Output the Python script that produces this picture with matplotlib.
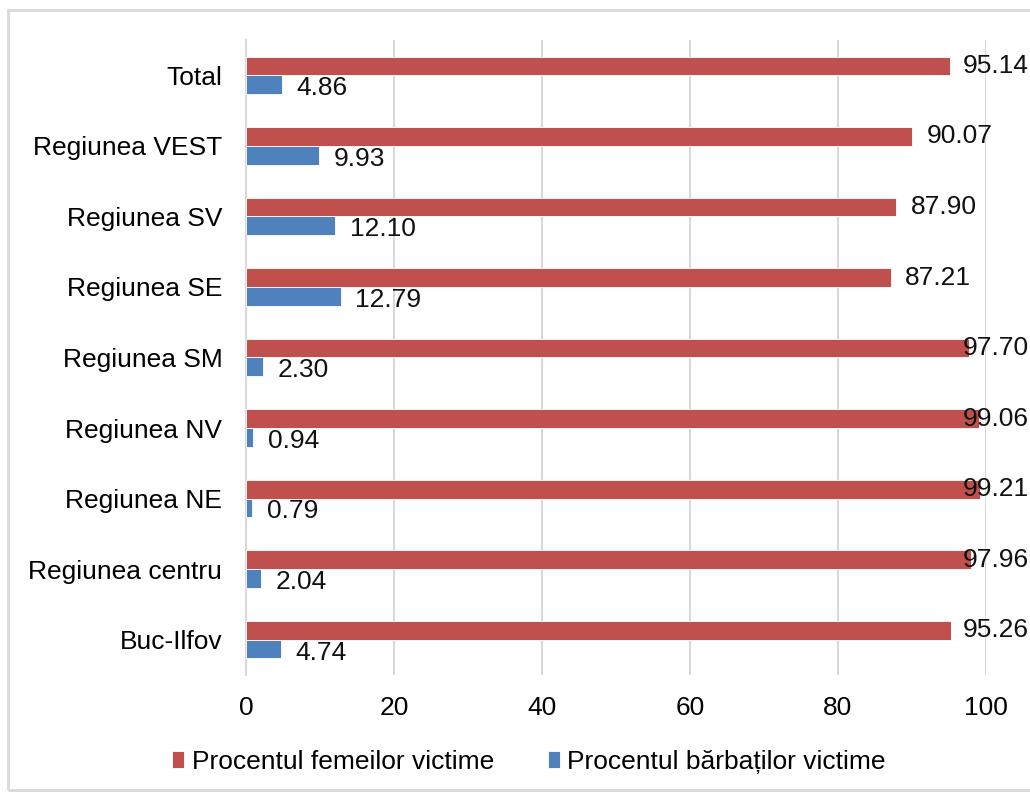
import numpy as np
import matplotlib.pyplot as plt
from matplotlib.patches import Rectangle

plt.rcParams['font.family'] = ['Liberation Sans', 'DejaVu Sans']

regiuni = ['Total', 'Regiunea VEST', 'Regiunea SV', 'Regiunea SE', 'Regiunea SM',
           'Regiunea NV', 'Regiunea NE', 'Regiunea centru', 'Buc-Ilfov']
femei = [95.14, 90.07, 87.90, 87.21, 97.70, 99.06, 99.21, 97.96, 95.26]
barbati = [4.86, 9.93, 12.10, 12.79, 2.30, 0.94, 0.79, 2.04, 4.74]
xticks = [0, 20, 40, 60, 80, 100]

rosu = '#C0504D'
albastru = '#4F81BD'
gri = '#D9D9D9'

fig = plt.figure(figsize=(10.3, 7.95), dpi=100)
ax = fig.add_axes([0.2388, 0.151, 0.7184, 0.7987])

y = np.arange(len(regiuni))
h = 0.265
ax.barh(y - h / 2, femei, height=h, color=rosu, edgecolor='white', linewidth=0.6,
        label='Procentul femeilor victime', zorder=3)
ax.barh(y + h / 2, barbati, height=h, color=albastru, edgecolor='white', linewidth=0.6,
        label='Procentul bărbaților victime', zorder=3)

# etichete: in afara capatului, dar impinse spre stanga daca nu incap
for i in range(len(regiuni)):
    ax.text(min(femei[i] + 1.9, 96.9), y[i] - h / 2, f'{femei[i]:.2f}',
            va='center', ha='left', fontsize=19, color='#111111', clip_on=False, zorder=4)
    ax.text(barbati[i] + 2.0, y[i] + h / 2 + 0.05, f'{barbati[i]:.2f}',
            va='center', ha='left', fontsize=19, color='#111111', clip_on=False, zorder=4)

ax.set_ylim(len(regiuni) - 0.5, -0.5)
ax.set_xlim(0, 100)
ax.set_yticks(y)
ax.set_yticklabels(regiuni, fontsize=19)
ax.set_xticks(xticks)
ax.set_xticklabels([str(t) for t in xticks], fontsize=19)
ax.tick_params(length=0)
ax.tick_params(axis='y', pad=17)
ax.tick_params(axis='x', pad=15)
ax.grid(axis='x', color=gri, linewidth=1.5, zorder=0)
for s in ['top', 'right', 'bottom']:
    ax.spines[s].set_visible(False)
ax.spines['left'].set_color(gri)
ax.spines['left'].set_linewidth(1.5)

leg = fig.legend(loc='center', bbox_to_anchor=(0.5136, 0.0415), ncol=2, frameon=False,
                 fontsize=19, handlelength=0.47, handleheight=0.6, handletextpad=0.27,
                 columnspacing=2.05)

fig.patches.append(Rectangle((0.008, 0.006), 1.2, 0.981, transform=fig.transFigure,
                             fill=False, edgecolor=gri, linewidth=2))

fig.savefig('out.png', dpi=100)
